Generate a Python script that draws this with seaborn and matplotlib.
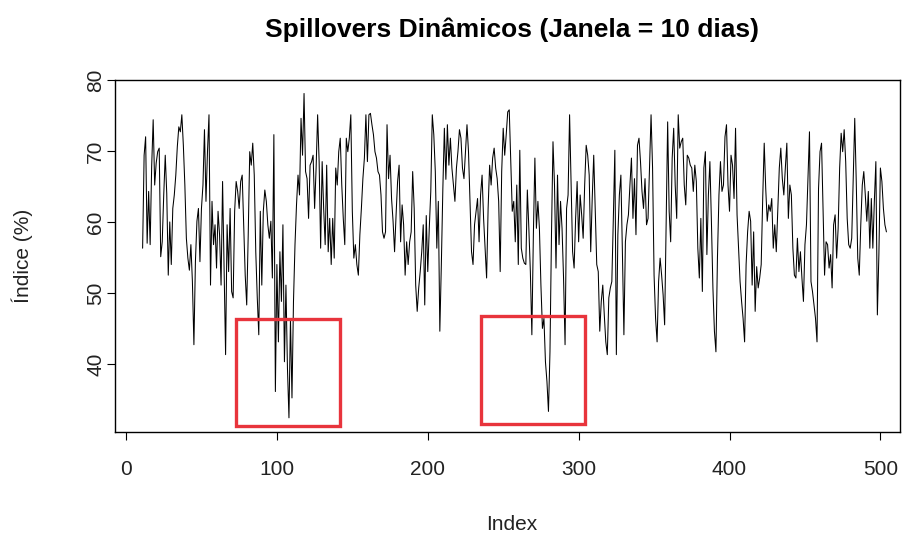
import numpy as np
import pandas as pd
import matplotlib
matplotlib.use("Agg")
import matplotlib.pyplot as plt
from matplotlib.patches import Rectangle
import seaborn as sns

# ---- data ----
start_index = 11
seg1 = [56.3, 69.4, 72.0, 57.0, 64.3, 56.8, 67.8, 74.4, 65.2, 68.3, 69.9, 70.4, 55.1, 57.2, 63.8, 69.4,
        64.0, 52.5, 60.0, 54.0, 61.9, 63.8, 66.6, 70.6, 73.4, 72.7, 75.1, 70.8, 65.2, 57.7, 54.9, 53.2,
        56.8, 51.6, 42.7, 54.4, 60.1, 61.9]
seg2 = [54.4, 61.9, 65.2, 73.0, 62.9, 69.9, 75.1, 51.1, 62.9, 56.8, 59.6, 53.5, 61.5, 58.2, 51.1, 65.7,
        53.5, 41.3, 59.6, 53.0, 61.9, 50.2, 49.3, 61.5, 65.7, 64.3, 61.9, 65.7, 66.6, 59.6, 52.5, 48.3,
        58.2, 69.9, 68.0, 71.1, 66.6, 55.8, 49.3, 44.1, 61.5]
seg3 = [51.1, 61.5, 64.5, 62.9, 59.6, 57.7, 60.1, 52.1, 72.3, 36.1, 54.0, 43.1, 55.8, 48.8, 59.6, 40.3,
        51.1, 39.4, 32.4, 46.4, 35.2, 48.8, 56.8, 62.4, 66.6, 63.8, 74.6, 69.4, 78.1, 67.1, 66.1, 60.5,
        68.0, 68.5, 69.4, 61.9, 67.6, 75.1, 68.5, 56.3, 68.5]
seg4 = [61.9, 56.8, 68.0, 55.8, 60.5, 54.0, 60.5, 54.9, 67.6, 65.2, 69.9, 71.8, 65.2, 60.5, 56.8, 71.8,
        69.9, 71.8, 75.1, 61.5, 54.9, 56.8, 54.0, 52.5, 58.2, 61.9, 66.1, 69.0, 75.1, 68.5, 75.1, 75.3,
        73.7, 72.3, 69.9, 69.0, 67.1, 66.6, 63.8, 58.6, 57.7]
seg5 = [58.6, 73.7, 66.1, 69.4, 63.3, 60.1, 55.8, 61.0, 65.7, 68.0, 57.2, 62.4, 59.6, 52.5, 57.2, 54.0,
        57.2, 58.6, 67.1, 61.9, 51.1, 47.4, 50.7, 53.0, 55.8, 59.6, 48.3, 60.9, 53.0, 59.1, 64.3, 75.1,
        72.3, 67.1, 56.3, 62.9, 44.6, 54.0, 64.7, 73.2, 66.0]
seg6 = [73.7, 68.0, 71.8, 67.6, 65.2, 62.9, 67.6, 69.9, 73.0, 71.8, 67.6, 66.1, 69.9, 73.7, 69.9, 62.9,
        55.8, 54.0, 59.6, 61.5, 63.3, 57.2, 63.8, 66.6, 60.5, 56.3, 52.1, 61.9, 68.0, 65.2, 69.0, 70.4,
        67.6, 66.1, 62.9, 53.0, 67.1, 73.2, 69.4, 72.3, 75.5]
seg7 = [75.8, 68.5, 61.5, 62.9, 57.2, 65.2, 54.0, 70.1, 56.3, 54.9, 54.2, 54.0, 64.5, 59.1, 53.0, 44.1,
        58.2, 69.0, 59.1, 62.9, 59.1, 51.1, 45.0, 46.4, 40.3, 37.5, 33.3, 41.7, 58.2, 71.3, 65.2, 53.5,
        66.6, 56.8, 62.9, 59.1, 52.1, 42.7, 61.9, 63.8, 75.1]
seg8 = [65.2, 55.8, 53.5, 60.5, 65.7, 57.2, 63.8, 61.0, 57.7, 65.2, 70.8, 69.4, 66.6, 55.8, 63.3, 69.4,
        61.5, 54.0, 53.0, 44.6, 48.8, 51.1, 46.9, 43.1, 41.3, 49.3, 50.7, 51.6, 60.5, 70.1, 41.3, 58.2,
        63.8, 66.6, 55.8, 44.1, 57.2, 59.6, 61.0, 65.2, 69.0]
seg9 = [60.5, 66.1, 58.2, 70.8, 71.8, 68.5, 64.3, 61.9, 66.1, 59.6, 60.5, 68.0, 75.1, 67.6, 52.5, 46.4,
        43.1, 51.6, 54.9, 52.5, 49.7, 45.5, 60.1, 74.1, 61.5, 57.2, 69.0, 73.2, 65.2, 60.5, 75.1, 70.4,
        71.3, 71.8, 65.2, 62.4, 69.4, 69.0, 68.0, 67.6, 64.3]
seg10 = [68.0, 65.7, 56.3, 52.1, 60.5, 50.2, 67.6, 69.9, 55.4, 63.8, 68.5, 60.1, 50.7, 44.6, 41.7, 54.9,
         63.8, 68.5, 64.3, 65.2, 72.0, 73.7, 65.2, 61.5, 69.4, 68.0, 63.3, 73.2, 61.0, 56.3, 51.6, 48.8,
         46.4, 43.1, 54.0, 58.6, 61.5, 60.1, 51.1, 58.6, 47.4]
seg11 = [53.7, 50.7, 52.1, 54.0, 63.3, 71.1, 64.7, 60.1, 62.4, 61.5, 63.3, 56.3, 59.6, 55.8, 61.9, 67.6,
         70.4, 66.1, 63.8, 67.6, 71.1, 60.5, 65.2, 63.8, 56.3, 52.5, 52.1, 57.7, 53.0, 55.8, 52.1, 48.8,
         56.8, 59.6, 66.1, 72.7, 51.6, 50.2, 48.3, 46.4, 43.1]
seg12 = [64.7, 69.9, 71.1, 61.5, 52.5, 57.2, 56.8, 53.5, 55.4, 50.7, 59.6, 61.0, 54.9, 59.1, 67.6, 72.5,
         69.9, 73.0, 68.5, 60.5, 56.8, 56.3, 57.7, 66.1, 74.6, 65.7, 54.9, 52.5, 59.6, 65.2, 67.1, 63.8,
         60.1, 64.3, 56.3, 63.3, 56.3, 62.9, 68.5, 46.9, 55.4, 67.6, 65.7, 61.9, 59.6, 58.6]

spill = seg1 + seg2 + seg3 + seg4 + seg5 + seg6 + seg7 + seg8 + seg9 + seg10 + seg11 + seg12
index = list(range(start_index, start_index + len(spill)))

x_ticks = [0, 100, 200, 300, 400, 500]
y_ticks = [40, 50, 60, 70, 80]

# highlight boxes (x0, x1, y0, y1) in data units
box1 = (73, 142, 31.3, 46.3)
box2 = (235.5, 304.5, 31.5, 46.8)

title = "Spillovers Dinâmicos (Janela = 10 dias)"
xlabel = "Index"
ylabel = "Índice (%)"

df = pd.DataFrame({"Index": index, "Spill": spill})

# ---- plot ----
sns.set_style("white")
plt.rcParams["font.family"] = ["Liberation Sans", "DejaVu Sans"]

W, H = 902, 536
fig = plt.figure(figsize=(W / 100, H / 100), dpi=100)
ax = fig.add_axes([115 / W, 1 - 432 / H, 785 / W, 352 / H])

sns.lineplot(data=df, x="Index", y="Spill", ax=ax, color="black", linewidth=0.75)

for (x0, x1, y0, y1) in (box1, box2):
    ax.add_patch(Rectangle((x0, y0), x1 - x0, y1 - y0, fill=False,
                           edgecolor="#E8343C", linewidth=2.4, zorder=5))

ax.set_xlim(-7.3, 513)
ax.set_ylim(30.4, 80)
ax.set_xticks(x_ticks)
ax.set_yticks(y_ticks)

ax.tick_params(axis="both", direction="out", length=6, width=0.8, color="black",
               labelsize=15, labelcolor="#222222", left=True, bottom=True)
ax.tick_params(axis="x", pad=14)
ax.tick_params(axis="y", pad=1)
for lab in ax.get_yticklabels():
    lab.set_rotation(90)
    lab.set_va("center")

for s in ax.spines.values():
    s.set_color("black")
    s.set_linewidth(1.0)
    s.set_visible(True)

ax.set_xlabel(xlabel, fontsize=15, color="#222222")
ax.set_ylabel(ylabel, fontsize=15, color="#222222")
ax.xaxis.set_label_coords((512 - 115) / 785, (432 - 525) / 352)
ax.xaxis.label.set_va("center")
ax.yaxis.set_label_coords((22 - 115) / 785, 0.5)
ax.yaxis.label.set_va("center")

fig.text(512 / W, 1 - 30 / H, title, fontsize=19, fontweight="bold",
         ha="center", va="center", color="black")

fig.savefig("out.png", dpi=100)
